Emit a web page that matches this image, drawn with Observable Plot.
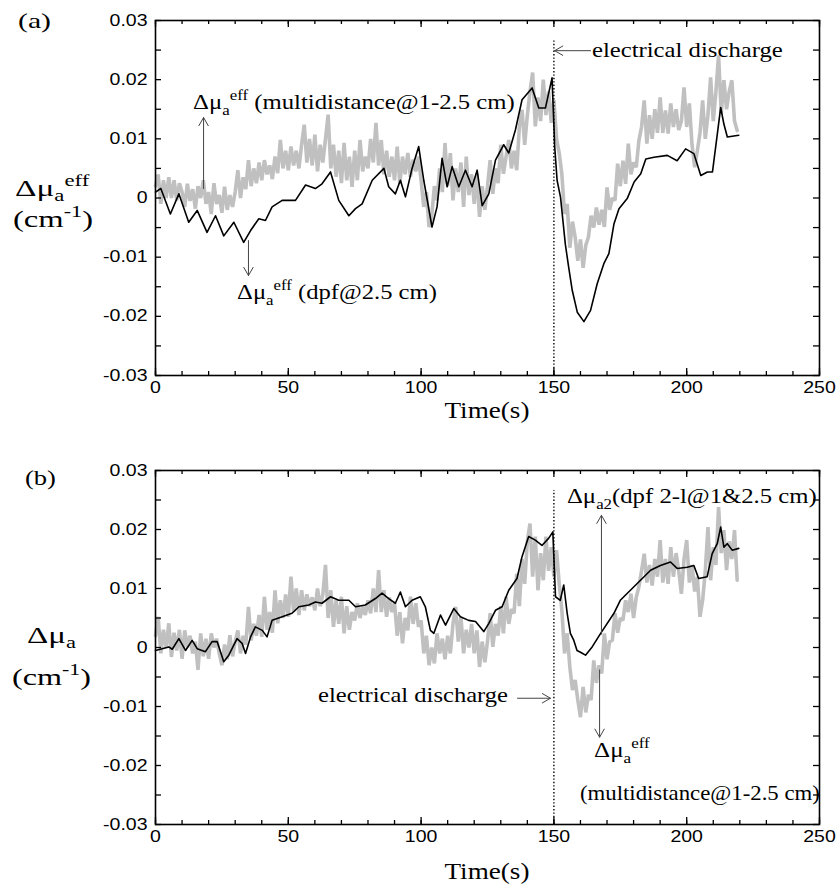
<!DOCTYPE html>
<html><head><meta charset="utf-8">
<script src="https://cdn.jsdelivr.net/npm/d3@7"></script>
<script src="https://cdn.jsdelivr.net/npm/@observablehq/plot@0.6"></script>
<style>
body{margin:0;background:#fff}
#wrap{position:relative;width:840px;height:891px;background:#fff}
#wrap svg{position:absolute;left:0}
</style>
</head><body><div id="wrap"></div>
<script>
// ---------------- data ----------------
const X_DOMAIN = [0, 250];
const Y_DOMAIN = [-0.03, 0.03];
const timeMajor = [0, 50, 100, 150, 200, 250];
const timeMinor = [0,10,20,30,40,50,60,70,80,90,100,110,120,130,140,150,160,170,180,190,200,210,220,230,240,250];
const muMajor = [-0.03, -0.02, -0.01, 0, 0.01, 0.02, 0.03];
const muMinor = [-0.03,-0.025,-0.02,-0.015,-0.01,-0.005,0,0.005,0.01,0.015,0.02,0.025,0.03];
const DISCHARGE_T = 150;
const GRAY_STEP_S = 1;   // gray series sampled every second from t = 0
const MILLI = 1e-3;      // series below are in units of 10^-3 cm^-1

// (a) Δμa_eff multidistance@1-2.5 cm (gray), t = 0..219 s
const grayA_milli = [
 2,4,-1,3,0, 3.5,0,3,-0.4,2.5, 1,-1.5,2.4,-0.5,1.5, -1.8,2,0,3,-1,
 1,-2.7,2.5,-1,0.5, -2.5,1.9,-2,0.5,-1.5, 1,4.7,0,3.5,1.5, 6.4,2,5,2.5,6,
 3,6.4,4,5.5,3.2, 7,4.2,9.8,5,8, 4.7,8.7,5.5,8,5, 9,12.4,6,10,5.5,
 10.7,4.5,9,6,10, 14.1,5,9,3.6,8, 2.5,9.3,3,7,1.9, 8,3,9.8,4.5,7,
 5,10,6,12.7,5.5, 9.8,4,8,3.6,7, 3,8.7,2.4,7,4, 7.6,3.6,6.5,4.5,7,
 3,-1.5,1,-4.9,-3, 2,-0.4,5,1,9.3, 2,7.6,-0.4,5,1, 6,-1.5,7,0.5,4,
 -1,4.1,-3.2,2,-2, 2,6.4,0.7,5,2.5, 9,4.1,7,9.8,5, 8,4.7,12,14.9,9,
 14,18,21.2,12.1,17, 13,20,14,18,12.7,
 16.6,10,7.6, 4,-2.7, -1,-8.4,-4, -6.6,-10.6,-7,-11.8,-8,
 -6.6,-3,-5,-1.6,-4.5,-2, -4.9,1.8,-2,0, -0.4,5.8,2, 6.3,2.4,9.2,4,6,
 5.2,9.7, 12,16.5,9.2,14,10,15,11, 17,11,14.8,10.9,16,12,15,11.5,
 13,18.7,12,16, 9,5.2,8,11, 16.5,10,14, 20.4,13,18,24.1, 14.3,19.9,15,18,
 19.9,13,11.4
];
// (a) Δμa_eff dpf@2.5 cm (black)
const blackA_t = [0,2,5.6,8.8,12.5,15.7,19.4,22.6,25.7,29.5,33.2,35.8,38.9,41.4,43.9,47.7,52.7,56.5,60.2,62.7,
 65.9,69,72.8,75.3,77.8,81.6,86,87.8,90.3,92.2,94.1,96.6,99.1,101,104.1,106,107.9,109.8,111.7,114.2,
 116.7,119.2,121.1,123,125.5,128,131.1,133,135.5,138,141.8,144.3,146.8,149.3,150.3,151.2,152.5,154.3,155.5,156.9,
 158.8,161.3,163.8,166.3,168.8,170.7,172.6,174.5,177.6,180.2,182.7,184.6,187.7,192.7,196.4,199.6,202.7,205.3,207.8,209.7,
 210.9,212.8,214,215.3,219.6];
const blackA_milli = [1.0,1.6,-2.7,0.7,-4.1,-2.1,-5.8,-3.0,-6.4,-4.1,-7.5,-5.5,-3.5,-3.8,-1.5,-0.4,-0.4,2.2,1.6,2.4,
 4.4,-0.4,-3.0,-1.8,-1.0,3.0,5.0,1.9,0.7,3.0,0.2,5.0,8.7,3.0,-4.9,-1.5,6.7,1.9,5.3,1.9,
 4.7,1.9,4.7,-1.3,0.7,6.4,9.0,7.6,11.5,16.6,18.6,15.2,15.2,20.3,8.7,3.0,0.1,-7.8,-11.5,-15.6,
 -19.3,-20.9,-19,-14.5,-11.1,-9.4,-4.4,-1.8,-0.1,2.7,4.1,6.6,6.9,7.2,6.3,8.3,7.5,3.8,4.4,4.4,
 8.6,15.3,12.5,10.3,10.6];

// (b) Δμa_eff multidistance@1-2.5 cm (gray), t = 0..219 s
const grayB_milli = [
 2,5.2,-1,3,0, 4.1,-1.6,2.5,-0.5,3, -1.9,2.9,0,2,-1, 1,-3.8,2.4,-1.5,1.5,
 -1.9,2.4,0,1.5,-1, -3,0.5,-2,2.1,-1.5, 1,2.9,-1,2,0.5, 6.9,1.2,4,2,5.5,
 1.8,8.6,3,6,2.5, 9.7,4.1,8,5,9, 5.2,12,6,10,5.5, 9.7,6.3,9,7,8.5,
 6.3,10,7,9,14, 5,9.7,3.5,8,4, 8.6,2.4,7,3,6, 4.6,7.5,5,7,5.5,
 8,5.8,10,6,13.1, 6,9.7,5.2,8.5,6, 7.5,2,6,0.7,5, 2.9,8.6,4,7.5,3.5,
 4.6,-1,2,-3,0, -2.7,2.4,-1,1.5,-2, 2,-1,4,6.9,1, 5.2,-1,3,0,4,
 -1,2.9,-3.3,1,-2.5, 1,5.8,0.1,4,2, 7,2.4,8.6,4,6.5,
 5.8,12.5,7, 15,10.8,18,21, 12,18.8,9.7,16, 11.4,18.8,13,17,
 12,16.5,10.8, 6.3,-1,2.4, -3.3,-7.2,-5.5, -8.9,-11.8,-6.7,-11,-8,
 -8.9,-2.2,-6,-3, -4.4,2.4,-2,1, 1.2,5.8,2.5,5, 4.6,8,6,9.1,5,8.5,
 10.3,13,15.9,11,14,10.5,15,12, 18.2,11,15,10.8,17,12,16,13,
 9.1,15,18.2,11,14,9.5,12, 5.2,8,13, 20.4,11.4,17,14, 23.8,16,
 19.9,13.1,18, 15,19.9,11.4
];
// (b) Δμa2 dpf 2-l@1&2.5 cm (black)
const blackB_t = [0,2.5,5,6.3,8.8,11.3,13.8,15.7,18.8,21.3,23.2,25.7,27.6,30.7,32.6,33.9,35.8,37.6,40.2,42,
 43.9,47.7,51.4,54,57.7,60.2,62.7,65.9,69,72.8,75.3,79,82.8,85.3,87.8,90.3,92.2,94.1,96.6,99.7,
 101.6,103.5,104.8,107.3,109.2,112.3,114.8,117.9,120.5,123.6,125.5,128,130.5,133,136.1,138,140.5,143,145.5,148,
 149.6,150.6,152.4,153.7,155,156.2,157.5,158.7,160,161.9,164.4,167.6,172.6,175,178.8,182.6,186.4,190.1,193.9,196.4,
 200.2,202.7,204.5,207.7,209.6,211.5,212.8,214,215.3,217.1,219.6];
const blackB_milli = [-0.5,-0.2,0.1,-0.3,1.5,-0.5,1.2,-0.2,-0.7,1.0,1.0,-2.4,-1.3,1.5,0.7,-1.0,1.8,3.5,2.9,1.8,
 4.6,5.2,5.8,6.9,7.2,7.7,7.5,8.6,8.0,8.0,6.9,7.2,8.3,9.2,8.3,7.5,9.4,6.9,8.0,8.6,
 6.9,2.9,2.4,5.5,3.8,6.6,5.2,4.6,4.4,2.7,4.1,6.3,6.9,9.7,11.7,15.4,18.8,18.2,17.3,18.5,
 19.6,8.6,8.0,10.6,5.8,2.4,1.2,-0.5,-0.8,-1.3,0.1,2.4,5.8,8.0,9.7,11.4,13.1,13.9,14.5,13.4,
 13.6,13.9,11.7,12.0,15.9,17.6,20.4,17.0,17.6,16.5,16.8];

// annotation arrows (data units)
const arrowsA = [
 {x1: 18.1, y1: 0.0016, x2: 18.1, y2: 0.0136},
 {x1: 35.0, y1: -0.0072, x2: 35.0, y2: -0.0131},
 {x1: 163.8, y1: 0.0249, x2: 150.3, y2: 0.0249}
];
const arrowsB = [
 {x1: 167.9, y1: 0.00225, x2: 167.9, y2: 0.0224},
 {x1: 167.2, y1: -0.0038, x2: 167.2, y2: -0.0152},
 {x1: 136.3, y1: -0.0086, x2: 148.7, y2: -0.0086}
];
const dotTopA = 0.0266, dotTopB = 0.0266;

// annotation labels (data units for anchor; width = target pixel width)
const labelsA = [
 {t: 14.3, v: 0.0150, width: 322, parts: [["Δμ","n"],["a","sub"],["eff","sup"],[" (multidistance@1-2.5 cm)","n"]]},
 {t: 30.9, v: -0.0171, width: 200, parts: [["Δμ","n"],["a","sub"],["eff","sup"],[" (dpf@2.5 cm)","n"]]},
 {t: 164.5, v: 0.0237, width: 191, parts: [["electrical discharge","n"]]}
];
const labelsB = [
 {t: 155.1, v: 0.0244, width: 250, parts: [["Δμ","n"],["a2","sub"],["(dpf 2-l@1&2.5 cm)","n"]]},
 {t: 165.3, v: -0.0186, width: 56, parts: [["Δμ","n"],["a","sub"],["eff","sup"]]},
 {t: 160.0, v: -0.0259, width: 240, parts: [["(multidistance@1-2.5 cm)","n"]]},
 {t: 61.4, v: -0.0094, width: 190, parts: [["electrical discharge","n"]]}
];

// ---------------- drawing ----------------
const SANS = "'Liberation Sans', Arial, Helvetica, sans-serif";
const SERIF = "'Liberation Serif', 'Times New Roman', serif";

function toRows(ts, vs) { return ts.map((t, i) => ({t, v: vs[i] * MILLI})); }
function grayRows(vs) { return vs.map((v, i) => ({t: i * GRAY_STEP_S, v: v * MILLI})); }

function panel({gray, black, arrows, dotTop, height, marginTop, marginBottom}) {
  const W = 840, mL = 155, mR = 21;
  const pw = W - mL - mR, ph = height - marginTop - marginBottom;
  return Plot.plot({
    width: W, height, marginLeft: mL, marginRight: mR, marginTop, marginBottom,
    x: {domain: X_DOMAIN, label: null},
    y: {domain: Y_DOMAIN, label: null},
    style: {background: "white", overflow: "visible"},
    marks: [
      Plot.line(gray, {x: "t", y: "v", stroke: "#c0c0c0", strokeWidth: 3.6, curve: "linear", strokeLinejoin: "miter"}),
      Plot.line(black, {x: "t", y: "v", stroke: "#000", strokeWidth: 1.6}),
      Plot.ruleX([{t: DISCHARGE_T, lo: Y_DOMAIN[0], hi: dotTop}], {x: "t", y1: "lo", y2: "hi", stroke: "#000", strokeWidth: 1.4, strokeDasharray: "1.4 2"}),
      Plot.arrow(arrows, {x1: "x1", y1: "y1", x2: "x2", y2: "y2", stroke: "#444", strokeWidth: 1, headLength: 14, headAngle: 60}),
      Plot.frame({stroke: "#000", strokeWidth: 1.6}),
      Plot.tickY(muMinor, {y: d => d, insetRight: pw - 6, strokeWidth: 1.3}),
      Plot.tickY(muMinor, {y: d => d, insetLeft: pw - 6, strokeWidth: 1.3}),
      Plot.tickX(timeMinor, {x: d => d, insetTop: ph - 4, strokeWidth: 1.3}),
      Plot.tickX(timeMajor, {x: d => d, insetTop: ph - 7, strokeWidth: 1.3}),
      Plot.tickX(timeMinor, {x: d => d, insetBottom: ph - 4, strokeWidth: 1.3}),
      Plot.tickX(timeMajor, {x: d => d, insetBottom: ph - 7, strokeWidth: 1.3}),
      Plot.axisY(muMajor, {tickSize: 0, tickPadding: 8, tickFormat: d => d === 0 ? "0" : d.toFixed(2), fontSize: 16, fontFamily: SANS, label: null}),
      Plot.axisX(timeMajor, {tickSize: 0, tickPadding: 6, fontSize: 16, fontFamily: SANS, label: null})
    ]
  });
}

function rich(svg, {x, y, parts, size = 21, width = null, anchor = "start", subK = 0.28}) {
  const g = d3.select(svg).append("text")
    .attr("font-family", SERIF).attr("font-size", size).attr("fill", "#000")
    .attr("text-anchor", "start")
    .style("white-space", "pre");
  let cur = 0;
  for (const [s, kind] of parts) {
    const target = kind === "sub" ? size * subK : kind === "sup" ? -size * 0.42 : 0;
    g.append("tspan").attr("dy", target - cur).attr("font-size", kind === "n" ? size : size * 0.68).text(s);
    cur = target;
  }
  const w = g.node().getBBox().width;
  const sx = width ? width / w : 1;
  const x0 = anchor === "middle" ? x - w * sx / 2 : x;
  g.attr("transform", `translate(${x0},${y}) scale(${sx},1)`);
}

function stretchTicks(svg, k) {
  d3.select(svg).selectAll('g[aria-label="y-axis tick label"] text, g[aria-label="x-axis tick label"] text').each(function() {
    const tr = this.getAttribute("transform") || "";
    this.setAttribute("transform", tr + ` scale(${k},1)`);
  });
}

const wrap = document.getElementById("wrap");

const A = panel({gray: grayRows(grayA_milli), black: toRows(blackA_t, blackA_milli), arrows: arrowsA, dotTop: dotTopA, height: 440, marginTop: 20, marginBottom: 65});
A.style.top = "0px";
wrap.appendChild(A);
const B = panel({gray: grayRows(grayB_milli), black: toRows(blackB_t, blackB_milli), arrows: arrowsB, dotTop: dotTopB, height: 451, marginTop: 30, marginBottom: 67});
B.style.top = "440px";
wrap.appendChild(B);

stretchTicks(A, 1.22);
stretchTicks(B, 1.22);

// panel (a) texts
rich(A, {x: 18, y: 28, parts: [["(a)","n"]], size: 20, width: 33});
rich(A, {x: 15, y: 196, parts: [["Δμ","n"],["a","sub"],["eff","sup"]], size: 24, width: 75, subK: 0.2});
rich(A, {x: 13, y: 227, parts: [["(cm","n"],["-1","sup"],[")","n"]], size: 24, width: 80});
rich(A, {x: 487, y: 418, parts: [["Time(s)","n"]], size: 24, width: 85, anchor: "middle"});
{
  const sx = A.scale("x"), sy = A.scale("y");
  for (const L of labelsA) rich(A, {x: sx.apply(L.t), y: sy.apply(L.v), parts: L.parts, size: 21, width: L.width});
}
// panel (b) texts
rich(B, {x: 25, y: 45, parts: [["(b)","n"]], size: 20, width: 31});
rich(B, {x: 27, y: 203, parts: [["Δμ","n"],["a","sub"]], size: 24, width: 50, subK: 0.2});
rich(B, {x: 12, y: 245, parts: [["(cm","n"],["-1","sup"],[")","n"]], size: 24, width: 79});
rich(B, {x: 487, y: 439, parts: [["Time(s)","n"]], size: 24, width: 85, anchor: "middle"});
{
  const sx = B.scale("x"), sy = B.scale("y");
  for (const L of labelsB) rich(B, {x: sx.apply(L.t), y: sy.apply(L.v), parts: L.parts, size: 21, width: L.width});
}
</script></body></html>
